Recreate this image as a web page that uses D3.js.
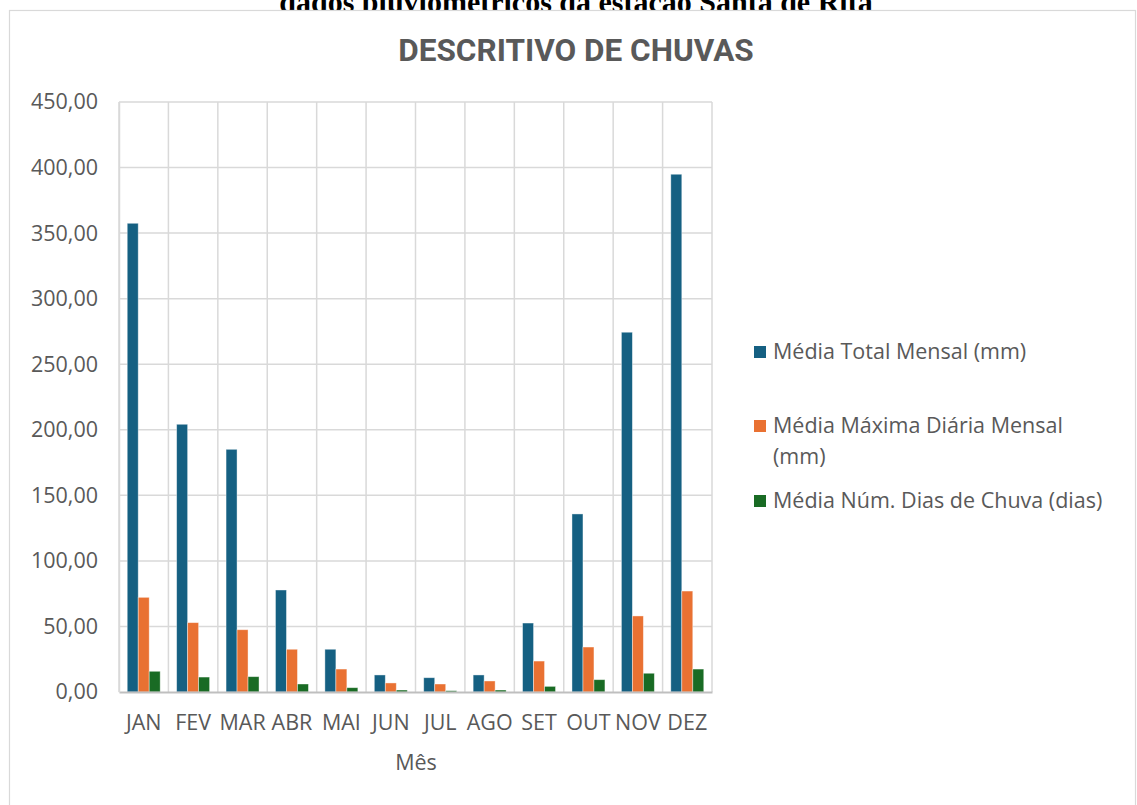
<!DOCTYPE html>
<html>
<head>
<meta charset="utf-8">
<script src="https://cdn.jsdelivr.net/npm/d3@7"></script>
<style>
  body { margin: 0; background: #fff; }
  text { font-family: "Open Sans", Roboto, sans-serif; }
</style>
</head>
<body>
<div id="viz"></div>
<script>
const months = ['JAN', 'FEV', 'MAR', 'ABR', 'MAI', 'JUN', 'JUL', 'AGO', 'SET', 'OUT', 'NOV', 'DEZ'];
const seriesNames = ['Média Total Mensal (mm)', 'Média Máxima Diária Mensal (mm)', 'Média Núm. Dias de Chuva (dias)'];
const totalMensal = [357.5, 204.2, 185.1, 77.8, 32.6, 13.0, 10.9, 13.0, 52.6, 135.8, 274.4, 394.9];
const maxDiaria = [72.2, 52.9, 47.5, 32.6, 17.5, 6.9, 6.1, 8.4, 23.6, 34.3, 58.0, 77.0];
const diasChuva = [15.8, 11.4, 11.7, 6.1, 3.3, 1.5, 1.0, 1.5, 4.3, 9.4, 14.3, 17.5];
const yTicks = [0, 50, 100, 150, 200, 250, 300, 350, 400, 450];
const colors = ['#156082', '#E97132', '#196B24'];

function buildChart(containerId) {
    const width = 1137;
    const height = 805;
    const margin = { top: 102, left: 119, right: 425, bottom: 113 };
    const innerWidth = width - margin.left - margin.right;
    const innerHeight = height - margin.top - margin.bottom;
    const fontSize = '21.5px';

    const svg = d3.select(containerId)
        .append('svg')
        .attr('width', width)
        .attr('height', height);

    // caption of the page above the chart, cut by the top edge as in the source
    svg.append('text')
        .attr('x', 576)
        .attr('y', 12)
        .attr('text-anchor', 'middle')
        .style('font-family', '"Liberation Serif", serif')
        .style('font-weight', 'bold')
        .style('font-size', '30px')
        .attr('fill', '#000')
        .text('dados pluviométricos da estação Santa de Rita');

    svg.append('rect')
        .attr('x', 9.5)
        .attr('y', 10.5)
        .attr('width', 1126)
        .attr('height', 820)
        .attr('fill', '#fff')
        .attr('stroke', '#d9d9d9')
        .attr('stroke-width', 1.2);

    svg.append('text')
        .attr('x', 576)
        .attr('y', 61)
        .attr('text-anchor', 'middle')
        .attr('fill', '#595959')
        .style('font-family', 'Roboto, sans-serif')
        .style('font-size', '31.5px')
        .style('font-weight', 'bold')
        .text('DESCRITIVO DE CHUVAS');

    const g = svg.append('g')
        .attr('transform', `translate(${margin.left},${margin.top})`);

    const x = d3.scaleBand()
        .domain(months)
        .range([0, innerWidth])
        .padding(0);

    const y = d3.scaleLinear()
        .domain([0, 450])
        .range([innerHeight, 0]);

    const data = [totalMensal, maxDiaria, diasChuva];

    const groupWidth = x.bandwidth() * 0.667;
    const x1 = d3.scaleBand()
        .domain(d3.range(seriesNames.length))
        .range([0, groupWidth]);

    // horizontal gridlines
    g.append('g')
        .selectAll('line')
        .data(yTicks.slice(1))
        .enter()
        .append('line')
        .attr('x1', 0)
        .attr('x2', innerWidth)
        .attr('y1', d => y(d))
        .attr('y2', d => y(d))
        .attr('stroke', '#d9d9d9')
        .attr('stroke-width', 1.5);

    // vertical gridlines at category boundaries
    g.append('g')
        .selectAll('line')
        .data(months.concat(['end']))
        .enter()
        .append('line')
        .attr('x1', (d, i) => i * x.step())
        .attr('x2', (d, i) => i * x.step())
        .attr('y1', 0)
        .attr('y2', innerHeight)
        .attr('stroke', '#d9d9d9')
        .attr('stroke-width', 1.5);

    const groups = g.selectAll('.series')
        .data(data)
        .enter()
        .append('g')
        .attr('class', 'series')
        .attr('fill', (d, i) => colors[i]);

    groups.each(function(values, si) {
        d3.select(this).selectAll('rect')
            .data(values)
            .enter()
            .append('rect')
            .attr('x', (d, i) => x(months[i]) + (x.bandwidth() - groupWidth) / 2 + x1(si))
            .attr('y', d => y(d))
            .attr('width', x1.bandwidth())
            .attr('height', d => innerHeight - y(d))
            .attr('stroke', 'rgba(255,255,255,0.5)')
            .attr('stroke-width', 0.8);
    });

    // x axis
    const xAxis = d3.axisBottom(x).tickSize(0).tickPadding(23);
    const xg = g.append('g')
        .attr('transform', `translate(0,${innerHeight})`)
        .call(xAxis);
    xg.select('.domain').attr('stroke', '#bfbfbf').attr('stroke-width', 2);
    xg.selectAll('text')
        .attr('fill', '#595959')
        .style('font-family', '"Open Sans", sans-serif')
        .style('font-size', fontSize);

    // y axis
    const yAxis = d3.axisLeft(y)
        .tickValues(yTicks)
        .tickSize(0)
        .tickPadding(21)
        .tickFormat(d => d3.format('.2f')(d).replace('.', ','));
    const yg = g.append('g').call(yAxis);
    yg.select('.domain').attr('stroke', '#d9d9d9').attr('stroke-width', 1.5);
    yg.selectAll('text')
        .attr('fill', '#595959')
        .style('font-family', '"Open Sans", sans-serif')
        .style('font-size', fontSize);

    svg.append('text')
        .attr('x', 416)
        .attr('y', 770)
        .attr('text-anchor', 'middle')
        .attr('fill', '#595959')
        .style('font-size', fontSize)
        .text('Mês');

    // legend
    const legendLines = [
        ['Média Total Mensal (mm)'],
        ['Média Máxima Diária Mensal', '(mm)'],
        ['Média Núm. Dias de Chuva (dias)']
    ];
    const legendY = [352, 426, 501];
    const legend = svg.append('g');
    legendLines.forEach((lines, i) => {
        legend.append('rect')
            .attr('x', 754)
            .attr('y', legendY[i] - 6)
            .attr('width', 12)
            .attr('height', 12)
            .attr('fill', colors[i]);
        lines.forEach((t, j) => {
            legend.append('text')
                .attr('x', 773)
                .attr('y', legendY[i] + 7 + j * 31)
                .attr('fill', '#595959')
                .style('font-size', fontSize)
                .text(t);
        });
    });
}

buildChart('#viz');
</script>
</body>
</html>
